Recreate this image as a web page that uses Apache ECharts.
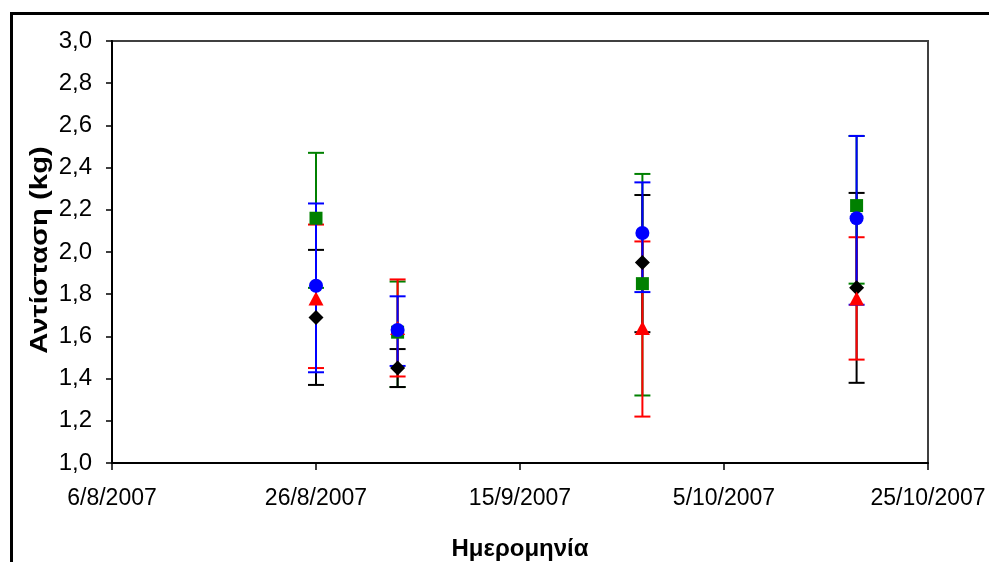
<!DOCTYPE html>
<html>
<head>
<meta charset="utf-8">
<script src="https://cdn.jsdelivr.net/npm/echarts@6/dist/echarts.min.js"></script>
<style>
  html, body { margin:0; padding:0; background:#fff; }
  #chart { width:989px; height:562px; }
</style>
</head>
<body>
<div id="chart"></div>
<script>
/* ημερομηνίες μετρήσεων */
const DATES = ['2007-08-26', '2007-09-03', '2007-09-27', '2007-10-18']
const BASE_DATE = '2007-08-06'   // αρχή άξονα x

/* τιμές ανά σειρά (μέση τιμή, κάτω / άνω άκρο σφάλματος) */
const greenVal  = [2.16, 1.62, 1.85, 2.22]
const greenLow  = [1.83, 1.36, 1.32, 1.85]
const greenHigh = [2.47, 1.86, 2.37, 2.55]

const blueVal  = [1.84, 1.63, 2.09, 2.16]
const blueLow  = [1.43, 1.46, 1.81, 1.75]
const blueHigh = [2.23, 1.79, 2.33, 2.55]

const redVal  = [1.78, 1.64, 1.64, 1.78]
const redLow  = [1.45, 1.41, 1.22, 1.49]
const redHigh = [2.13, 1.87, 2.05, 2.07]

const blackVal  = [1.69, 1.45, 1.95, 1.83]
const blackLow  = [1.37, 1.36, 1.62, 1.38]
const blackHigh = [2.01, 1.54, 2.27, 2.28]

/* μέρες από την αρχή του άξονα */
const DAY = 86400000
const dayOf = s => (Date.parse(s) - Date.parse(BASE_DATE)) / DAY
const xs = DATES.map(dayOf)

function fmtDate(v) {
  const d = new Date(Date.parse(BASE_DATE) + v * DAY)
  return d.getUTCDate() + '/' + (d.getUTCMonth() + 1) + '/' + d.getUTCFullYear()
}

function errSeries(name, color, low, high) {
  return {
    name: name + '-err',
    type: 'custom',
    z: 2,
    silent: true,
    data: xs.map((x, i) => [x, low[i], high[i]]),
    renderItem: (params, api) => {
      const lo = api.coord([api.value(0), api.value(1)])
      const hi = api.coord([api.value(0), api.value(2)])
      const w = 8
      const st = { stroke: color, lineWidth: 2 }
      return {
        type: 'group',
        children: [
          { type: 'line', shape: { x1: lo[0], y1: lo[1], x2: hi[0], y2: hi[1] }, style: st },
          { type: 'line', shape: { x1: lo[0] - w, y1: lo[1], x2: lo[0] + w, y2: lo[1] }, style: st },
          { type: 'line', shape: { x1: hi[0] - w, y1: hi[1], x2: hi[0] + w, y2: hi[1] }, style: st }
        ]
      }
    }
  }
}

function markSeries(name, color, vals, symbol, size) {
  return {
    name: name,
    type: 'scatter',
    z: 3,
    symbol: symbol,
    symbolSize: size,
    itemStyle: { color: color, opacity: 1 },
    data: xs.map((x, i) => [x, vals[i]])
  }
}

const chart = echarts.init(document.getElementById('chart'))

chart.setOption({
  backgroundColor: '#fff',
  animation: false,
  grid: {
    left: 112, right: 61, top: 41, bottom: 99,
    outerBoundsMode: 'none', containLabel: false,
    show: true, borderColor: '#404040', borderWidth: 2, backgroundColor: 'transparent'
  },
  xAxis: {
    type: 'value',
    min: 0, max: 80, interval: 20,
    splitLine: { show: false },
    axisLine: { lineStyle: { color: '#000', width: 2 } },
    axisTick: { length: 7, lineStyle: { color: '#000', width: 1.5 } },
    axisLabel: {
      margin: 24, color: '#000', fontSize: 23,
      fontFamily: '"Liberation Sans Narrow", "Liberation Sans", Arial',
      formatter: fmtDate
    },
    name: 'Ημερομηνία',
    nameLocation: 'middle',
    nameGap: 74,
    nameTextStyle: { color: '#000', fontSize: 24, fontWeight: 'bold', fontFamily: '"Liberation Sans", Arial' }
  },
  yAxis: {
    type: 'value',
    min: 1, max: 3, interval: 0.2,
    splitLine: { show: false },
    axisLine: { show: true, lineStyle: { color: '#000', width: 2 } },
    axisTick: { show: true, length: 6, lineStyle: { color: '#000', width: 1.5 } },
    axisLabel: {
      margin: 20, color: '#000', fontSize: 24,
      fontFamily: '"Liberation Sans", Arial',
      formatter: v => v.toFixed(1).replace('.', ',')
    }
  },
  graphic: [
    {
      type: 'rect', silent: true,
      shape: { x: 11.5, y: 13.5, width: 1100, height: 700 },
      style: { fill: 'none', stroke: '#000', lineWidth: 3 }
    },
    {
      type: 'text', silent: true,
      x: 40, y: 250, rotation: Math.PI / 2, scaleX: 1.22,
      style: {
        text: 'Αντίσταση (kg)', fill: '#000',
        font: 'bold 24px "Liberation Sans", Arial',
        align: 'center', verticalAlign: 'middle'
      }
    }
  ],
  series: [
    errSeries('green', '#008000', greenLow, greenHigh),
    errSeries('black', '#000000', blackLow, blackHigh),
    errSeries('red', '#FF0000', redLow, redHigh),
    errSeries('blue', '#0000FF', blueLow, blueHigh),
    markSeries('green', '#008000', greenVal, 'rect', 13),
    markSeries('black', '#000000', blackVal, 'diamond', [15, 15]),
    markSeries('red', '#FF0000', redVal, 'triangle', [15, 14]),
    markSeries('blue', '#0000FF', blueVal, 'circle', 14)
  ]
})
</script>
</body>
</html>
